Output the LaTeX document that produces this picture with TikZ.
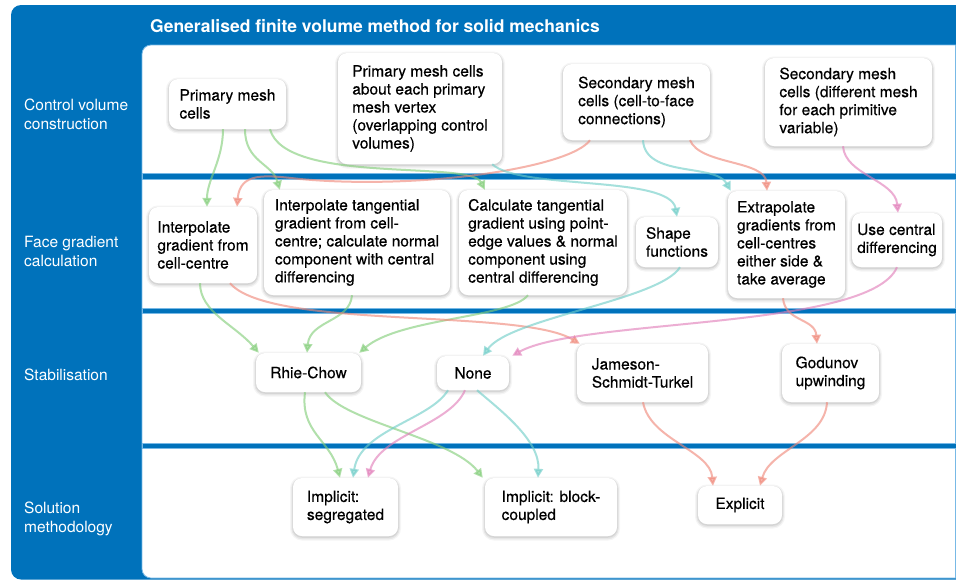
\documentclass[tikz,border=0pt]{standalone}
\usepackage{fontspec}
\setmainfont{TeX Gyre Heros}
\newfontfamily\boxfont[FakeBold=0.4]{TeX Gyre Heros}
\usetikzlibrary{shadows,arrows.meta}
\definecolor{mblue}{RGB}{0,114,187}
\definecolor{lblue}{RGB}{120,185,230}
\definecolor{cgreen}{RGB}{130,205,120}
\definecolor{cred}{RGB}{240,135,120}
\definecolor{cteal}{RGB}{110,205,200}
\definecolor{cpink}{RGB}{225,125,185}
\begin{document}
\begin{tikzpicture}[x=1pt,y=-1pt,
  box/.style={fill=white, rounded corners=9pt, align=left, inner sep=0pt,
    font=\boxfont\fontsize{15.5}{18}\selectfont,
    preaction={draw=black, draw opacity=0.04, line width=6pt, transform canvas={yshift=-1.5pt}},
    preaction={draw=black, draw opacity=0.06, line width=3.5pt, transform canvas={yshift=-1.5pt}},
    preaction={draw=black, draw opacity=0.07, line width=1.5pt, transform canvas={yshift=-1pt}}},
  lab/.style={text=white, font=\fontsize{15.5}{19}\selectfont, align=left, anchor=west, inner sep=0pt},
  conn/.style={line width=2pt, opacity=0.62, -{Triangle[length=9pt,width=9pt]}},
  gconn/.style={conn, draw=cgreen},
  rconn/.style={conn, draw=cred},
  tconn/.style={conn, draw=cteal},
  pconn/.style={conn, draw=cpink},
  band/.style={fill=mblue, draw=lblue, line width=0.6pt}]
\useasboundingbox (0,0) rectangle (956,579);
\clip (0,0) rectangle (956,579);
% background
\fill[mblue, rounded corners=10pt] (11,5) rectangle (990,579.5);
\filldraw[fill=white, draw=lblue, line width=0.8pt, rounded corners=9pt] (142,45) rectangle (985,578);
\draw[lblue, line width=0.8pt] (955,45) -- (955,578);
\filldraw[band] (142,173) rectangle (962,179);
\filldraw[band] (142,308) rectangle (962,313);
\filldraw[band] (142,443) rectangle (962,448);
% title
\node[anchor=base west, text=white, inner sep=0pt, font=\bfseries\fontsize{17.5}{20}\selectfont] (title) at (150,32) {Generalised finite volume method for solid mechanics};
% left labels
\node[lab] (l1) at (24,114) {Control volume\\construction};
\node[lab] (l2) at (24,251) {Face gradient\\calculation};
\node[lab] (l3) at (24,375) {Stabilisation};
\node[lab] (l4) at (24,519) {Solution\\methodology};
% row 1
\node[box, minimum width=117pt, minimum height=50pt] (n1) at (227.5,104) {Primary mesh\\cells};
\node[box, minimum width=164pt, minimum height=111pt] (n2) at (420,108.5) {Primary mesh cells\\about each primary\\mesh vertex\\(overlapping control\\volumes)};
\node[box, minimum width=147pt, minimum height=76pt] (n3) at (636.5,102) {Secondary mesh\\cells (cell-to-face\\connections)};
\node[box, minimum width=167pt, minimum height=88pt] (n4) at (848.5,102) {Secondary mesh\\cells (different mesh\\for each primitive\\variable)};
% row 2
\node[box, minimum width=108pt, minimum height=76pt] (n5) at (203,245) {Interpolate\\gradient from\\cell-centre};
\node[box, minimum width=186pt, minimum height=105pt] (n6) at (357,242.5) {Interpolate tangential\\gradient from cell-\\centre; calculate normal\\component with central\\differencing};
\node[box, minimum width=168pt, minimum height=105pt] (n7) at (543,242.5) {Calculate tangential\\gradient using point-\\edge values \& normal\\component using\\central differencing};
\node[box, minimum width=82pt, minimum height=50pt] (n8) at (677,242) {Shape\\functions};
\node[box, minimum width=117pt, minimum height=107pt] (n9) at (786.5,244.5) {Extrapolate\\gradients from\\cell-centres\\either side \&\\take average};
\node[box, minimum width=90pt, minimum height=54pt] (n10) at (897,240) {Use central\\differencing};
% row 3
\node[box, minimum width=105pt, minimum height=39pt] (n11) at (308.5,372.5) {Rhie-Chow};
\node[box, minimum width=72pt, minimum height=34pt] (n12) at (473,373) {None};
\node[box, minimum width=131pt, minimum height=58pt] (n13) at (642.5,373) {Jameson-\\Schmidt-Turkel};
\node[box, minimum width=97pt, minimum height=58pt] (n14) at (830.5,373) {Godunov\\upwinding};
% row 4
\node[box, minimum width=105pt, minimum height=58pt] (n15) at (345.5,507) {Implicit:\\segregated};
\node[box, minimum width=132pt, minimum height=58pt] (n16) at (551,507) {Implicit: block-\\coupled};
\node[box, minimum width=84pt, minimum height=38pt] (n17) at (740,505) {Explicit};
% connectors: green
\draw[gconn] ([xshift=-4.5pt]n1.south) .. controls (223,160) and (207,180) .. ([xshift=4pt]n5.north);
\draw[gconn] ([xshift=17.5pt]n1.south) .. controls (245,162) and (272,163) .. ([xshift=16pt]n6.north west);
\draw[gconn] ([xshift=42.5pt]n1.south) .. controls (285,185) and (470,160) .. ([xshift=26pt]n7.north west);
\draw[gconn] ([xshift=-3pt]n5.south) .. controls (200,312) and (235,325) .. ([xshift=3pt]n11.north west);
\draw[gconn] ([xshift=-5pt]n6.south) .. controls (350,322) and (310,320) .. ([xshift=-1.5pt]n11.north);
\draw[gconn] ([xshift=-15pt]n7.south) .. controls (510,318) and (400,318) .. ([xshift=-2pt]n11.north east);
\draw[gconn] ([xshift=-3.5pt]n11.south) .. controls (300,432) and (330,440) .. ([xshift=-5.5pt]n15.north);
\draw[gconn] ([xshift=16.5pt]n11.south) .. controls (345,422) and (452,438) .. ([xshift=-2pt]n16.north west);
% red
\draw[rconn] ([xshift=-46.5pt]n3.south) .. controls (570,168) and (420,190) .. (300,179) .. controls (265,175) and (240,172) .. ([xshift=34pt]n5.north);
\draw[rconn] ([xshift=53.5pt]n3.south) .. controls (700,165) and (765,160) .. ([xshift=-19.5pt]n9.north);
\draw[rconn] ([xshift=27pt]n5.south) .. controls (270,330) and (520,308) .. ([xshift=3pt]n13.north west);
\draw[rconn] ([xshift=-3.5pt]n9.south) .. controls (785,322) and (815,318) .. ([xshift=-13.5pt]n14.north);
\draw[rconn] ([xshift=0.5pt]n13.south) .. controls (650,440) and (710,450) .. ([xshift=-27pt]n17.north);
\draw[rconn] ([xshift=-3.5pt]n14.south) .. controls (825,440) and (770,450) .. ([xshift=20pt]n17.north);
% teal
\draw[tconn] ([xshift=-10pt]n2.south east) .. controls (520,190) and (670,175) .. (n8.north);
\draw[tconn] ([xshift=6.5pt]n3.south) .. controls (645,178) and (715,163) .. ([xshift=3pt]n9.north west);
\draw[tconn] ([xshift=3pt]n8.south) .. controls (660,300) and (510,318) .. ([xshift=10pt]n12.north);
\draw[tconn] ([xshift=-25pt]n12.south) .. controls (430,420) and (360,430) .. ([xshift=7.5pt]n15.north);
\draw[tconn] ([xshift=4pt]n12.south) .. controls (500,410) and (540,440) .. ([xshift=-13pt]n16.north);
% pink
\draw[pconn] ([xshift=-5.5pt]n4.south) .. controls (845,175) and (895,180) .. ([xshift=1pt]n10.north);
\draw[pconn] (n10.south) .. controls (870,330) and (580,318) .. ([xshift=3pt]n12.north east);
\draw[pconn] ([xshift=-8pt]n12.south) .. controls (450,425) and (380,435) .. ([xshift=22.5pt]n15.north);
\end{tikzpicture}
\end{document}
